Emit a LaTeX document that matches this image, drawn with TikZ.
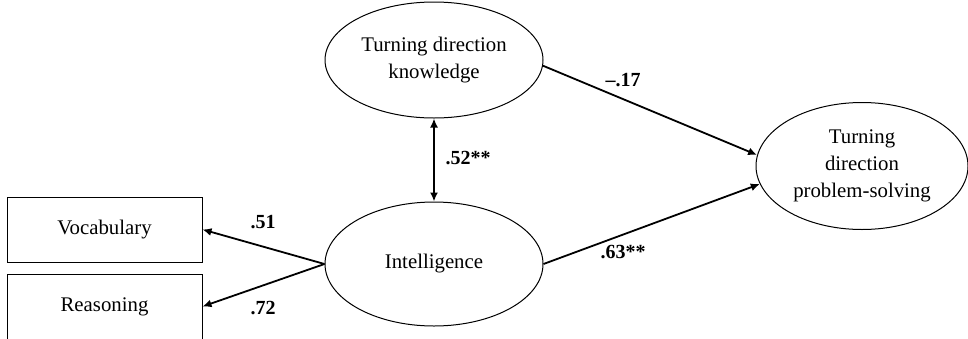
\documentclass[tikz,border=0pt]{standalone}
\usepackage{fontspec}
\setmainfont{Liberation Serif}
\usetikzlibrary{arrows.meta, shapes.geometric}

\begin{document}
\begin{tikzpicture}[x=0.5pt, y=-0.5pt,
    font=\fontsize{10.4}{13.5}\selectfont,
    latent/.style={ellipse, draw, line width=0.5pt, inner sep=0pt,
      align=center},
    obs/.style={rectangle, draw, line width=0.5pt, minimum width=97.5pt,
      minimum height=32.5pt},
    path/.style={line width=0.9pt, -{Latex[length=4.5pt, width=4pt]}},
    lbl/.style={font=\fontsize{10}{12}\selectfont\bfseries, inner sep=1pt}]
  \useasboundingbox (0,0) rectangle (968,338);
  % latent variables
  \node[latent, minimum width=109pt, minimum height=58pt] (know) at (434,60)
    {Turning direction\\knowledge};
  \node[latent, minimum width=109pt, minimum height=62pt] (intel) at (434,264)
    {Intelligence};
  \node[latent, minimum width=106pt, minimum height=63.5pt] (solve) at (862,166)
    {Turning\\direction\\problem-solving};
  % indicators of intelligence
  \node[obs] (vocab) at (104.5,229.5) {Vocabulary};
  \node[obs] (reason) at (104.5,306.5) {Reasoning};
  % loadings
  \draw[path] (intel.west) -- (vocab.east);
  \draw[path] (intel.west) -- (reason.east);
  \node[lbl] (l51) at (263,222) {.51};
  \node[lbl] (l72) at (263,308) {.72};
  % correlation
  \draw[path, {Latex[length=4.5pt, width=4pt]}-{Latex[length=4.5pt, width=4pt]}]
    (know.south) -- (intel.north);
  \node[lbl] (l52) at (468,158) {.52**};
  % regression paths
  \draw[path] (know.-3) -- (solve.174);
  \draw[path] (intel.east) -- (solve.190);
  \node[lbl] (l17) at (623,80) {--.17};
  \node[lbl] (l63) at (623,252) {.63**};
\end{tikzpicture}
\end{document}
